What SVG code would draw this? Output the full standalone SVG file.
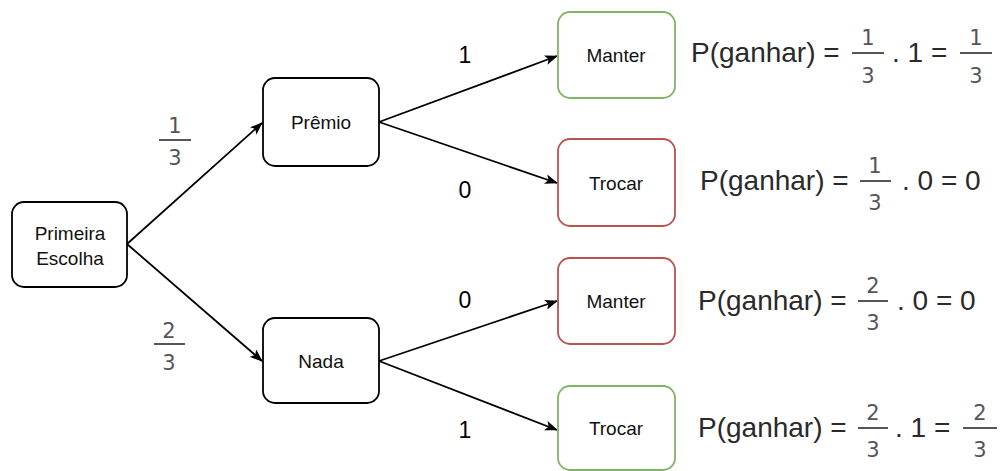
<svg xmlns="http://www.w3.org/2000/svg" width="1003" height="471" viewBox="0 0 1003 471">
<defs>
<marker id="arr" viewBox="0 0 13 10" refX="12" refY="5" markerWidth="13" markerHeight="10" markerUnits="userSpaceOnUse" orient="auto">
<path d="M0,0 L13,5 L0,10 L3,5 Z" fill="#000"/>
</marker>
</defs>
<style>
.box{fill:#fff;stroke:#000;stroke-width:1.8}
.g{stroke:#82b366}
.r{stroke:#b85450}
.lbl{font-family:"Liberation Sans",Arial,sans-serif;font-size:19px;fill:#111;text-anchor:middle}
.edge{stroke:#000;stroke-width:1.8;fill:none;marker-end:url(#arr)}
.num{font-family:"Liberation Sans",Arial,sans-serif;font-size:23px;fill:#000;text-anchor:middle}
.frac{font-family:"DejaVu Sans","Liberation Sans",sans-serif;font-size:21px;fill:#555;text-anchor:middle}
.fbar{stroke:#555;stroke-width:2}
.eq{font-family:"Liberation Sans",Arial,sans-serif;font-size:28px;fill:#2a2a2a}
</style>
<rect width="1003" height="471" fill="#fff"/>
<g id="connectors">
<line class="edge" x1="127" y1="244" x2="262" y2="123"/>
<line class="edge" x1="127" y1="244" x2="262" y2="361"/>
<line class="edge" x1="379" y1="122" x2="557" y2="56"/>
<line class="edge" x1="379" y1="122" x2="557" y2="183"/>
<line class="edge" x1="379" y1="361" x2="557" y2="301"/>
<line class="edge" x1="379" y1="361" x2="557" y2="430"/>
</g>
<g id="edge-labels">
<text class="num" x="465" y="63">1</text>
<text class="num" x="465" y="198">0</text>
<text class="num" x="465" y="308">0</text>
<text class="num" x="465" y="438">1</text>
<text class="frac" x="175" y="133">1</text>
<line class="fbar" x1="159" y1="140" x2="191" y2="140"/>
<text class="frac" x="175" y="165">3</text>
<text class="frac" x="169" y="338">2</text>
<line class="fbar" x1="154" y1="344" x2="185" y2="344"/>
<text class="frac" x="169" y="370">3</text>
</g>
<g id="primeira">
<rect class="box" x="12" y="202" width="115" height="85" rx="12"/>
<text class="lbl" x="70" y="240">Primeira</text>
<text class="lbl" x="70" y="265">Escolha</text>
</g>
<g id="premio">
<rect class="box" x="263" y="78" width="116" height="88" rx="12"/>
<text class="lbl" x="321" y="129">Prêmio</text>
</g>
<g id="nada">
<rect class="box" x="263" y="318" width="116" height="85" rx="12"/>
<text class="lbl" x="321" y="368">Nada</text>
</g>
<g id="manter1">
<rect class="box g" x="558" y="12" width="117" height="86" rx="12"/>
<text class="lbl" x="616" y="62">Manter</text>
</g>
<g id="trocar1">
<rect class="box r" x="558" y="139" width="117" height="87" rx="12"/>
<text class="lbl" x="616" y="190">Trocar</text>
</g>
<g id="manter2">
<rect class="box r" x="558" y="258" width="117" height="86" rx="12"/>
<text class="lbl" x="616" y="308">Manter</text>
</g>
<g id="trocar2">
<rect class="box g" x="558" y="386" width="117" height="84" rx="12"/>
<text class="lbl" x="616" y="435">Trocar</text>
</g>
<g id="formula1">
<text class="eq" x="691" y="62">P(ganhar) =</text>
<text class="frac" x="868" y="45">1</text>
<line class="fbar" x1="852" y1="53" x2="884" y2="53"/>
<text class="frac" x="868" y="83">3</text>
<text class="eq" x="892" y="62">. 1 =</text>
<text class="frac" x="976" y="45">1</text>
<line class="fbar" x1="960" y1="53" x2="992" y2="53"/>
<text class="frac" x="976" y="83">3</text>
</g>
<g id="formula2">
<text class="eq" x="700" y="190">P(ganhar) =</text>
<text class="frac" x="875" y="173">1</text>
<line class="fbar" x1="860" y1="181" x2="891" y2="181"/>
<text class="frac" x="875" y="210">3</text>
<text class="eq" x="902" y="190">. 0 = 0</text>
</g>
<g id="formula3">
<text class="eq" x="698" y="310">P(ganhar) =</text>
<text class="frac" x="873" y="293">2</text>
<line class="fbar" x1="858" y1="301" x2="888" y2="301"/>
<text class="frac" x="873" y="330">3</text>
<text class="eq" x="897" y="310">. 0 = 0</text>
</g>
<g id="formula4">
<text class="eq" x="698" y="437">P(ganhar) =</text>
<text class="frac" x="873" y="420">2</text>
<line class="fbar" x1="858" y1="428" x2="888" y2="428"/>
<text class="frac" x="873" y="457">3</text>
<text class="eq" x="895" y="437">. 1 =</text>
<text class="frac" x="980" y="420">2</text>
<line class="fbar" x1="963" y1="428" x2="997" y2="428"/>
<text class="frac" x="980" y="457">3</text>
</g>
</svg>
